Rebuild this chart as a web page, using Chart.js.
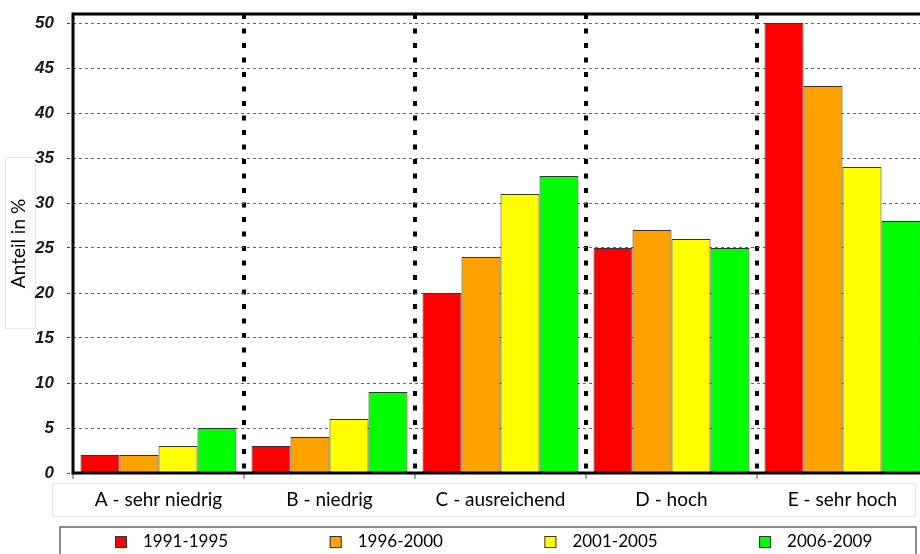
<!DOCTYPE html>
<html>
<head>
<meta charset="utf-8">
<script src="https://cdn.jsdelivr.net/npm/chart.js@4"></script>
<style>
  html, body { margin: 0; padding: 0; background: #fff; overflow: hidden; width: 920px; height: 554px; }
  #wrap { position: absolute; left: 0; top: 0; width: 930px; height: 554px; }
</style>
</head>
<body>
<div id="wrap"><canvas id="c" width="930" height="554"></canvas></div>
<script>
// ---- data ----
const categories = ['A - sehr niedrig', 'B - niedrig', 'C - ausreichend', 'D - hoch', 'E - sehr hoch'];
const seriesLabels = ['1991-1995', '1996-2000', '2001-2005', '2006-2009'];
const values1991 = [2, 3, 20, 25, 50];
const values1996 = [2, 4, 24, 27, 43];
const values2001 = [3, 6, 31, 26, 34];
const values2006 = [5, 9, 33, 25, 28];
const seriesColors = ['#FF0000', '#FFA200', '#FFFF00', '#00FF00'];
const yTickValues = [0, 5, 10, 15, 20, 25, 30, 35, 40, 45, 50];
const yTitle = 'Anteil in %';

const seriesValues = [values1991, values1996, values2001, values2006];

const frame = {
  id: 'frame',
  beforeDraw(chart) {
    const ctx = chart.ctx;
    ctx.save();
    ctx.strokeStyle = '#e6e6e6';
    ctx.lineWidth = 1;
    ctx.strokeRect(52.5, 483.5, 863, 33);
    ctx.strokeRect(5.5, 157.5, 30, 171);
    ctx.restore();
  },
  afterDatasetsDraw(chart) {
    const {ctx, chartArea: a} = chart;
    ctx.save();
    ctx.strokeStyle = '#000';
    ctx.lineWidth = 3;
    ctx.beginPath();
    ctx.moveTo(a.left, a.top);
    ctx.lineTo(a.right + 10, a.top);
    ctx.moveTo(a.left, a.top - 1.5);
    ctx.lineTo(a.left, a.bottom + 1.5);
    ctx.moveTo(a.left - 1.5, a.bottom);
    ctx.lineTo(a.right + 10, a.bottom);
    ctx.stroke();
    ctx.restore();
  },
  afterDraw(chart) {
    const ctx = chart.ctx;
    ctx.save();
    ctx.strokeStyle = '#666';
    ctx.lineWidth = 1.5;
    ctx.strokeRect(60, 527, 856, 40);
    const startX = 115, step = 214.7, cy = 542;
    ctx.font = '17px Lato';
    ctx.textBaseline = 'middle';
    ctx.textAlign = 'left';
    chart.data.datasets.forEach((ds, i) => {
      const x = startX + i * step;
      ctx.fillStyle = ds.backgroundColor;
      ctx.fillRect(x, cy - 6, 12, 12);
      ctx.strokeStyle = '#333';
      ctx.lineWidth = 1;
      ctx.strokeRect(x + 0.5, cy - 5.5, 11, 11);
      ctx.fillStyle = '#000';
      ctx.fillText(ds.label, x + 28, cy);
    });
    ctx.restore();
  }
};

new Chart(document.getElementById('c'), {
  type: 'bar',
  data: {
    labels: categories,
    datasets: seriesLabels.map((lab, i) => ({
      label: lab,
      data: seriesValues[i],
      backgroundColor: seriesColors[i],
      borderColor: '#333',
      borderWidth: 1,
      categoryPercentage: 0.912,
      barPercentage: 1.0
    }))
  },
  options: {
    responsive: false,
    animation: false,
    devicePixelRatio: 1,
    layout: { padding: { top: 14, left: 0, right: 2, bottom: 30 } },
    plugins: {
      legend: { display: false },
      tooltip: { enabled: false }
    },
    scales: {
      x: {
        offset: true,
        grid: {
          display: true,
          offset: true,
          color: (c) => (c.index === 0 ? 'rgba(0,0,0,0)' : '#000'),
          lineWidth: 4,
          drawTicks: true,
          tickLength: 6,
          tickColor: '#555',
          tickWidth: 1,
          tickBorderDash: []
        },
        border: { display: false, dash: [5, 9.5] },
        ticks: {
          color: '#000',
          font: { family: 'Lato', size: 19 },
          padding: 9,
          maxRotation: 0,
          autoSkip: false
        },
        afterFit(scale) { scale.height = 51; scale.paddingLeft = 0; scale.paddingRight = 0; }
      },
      y: {
        min: 0,
        max: 51,
        afterBuildTicks(scale) {
          scale.ticks = yTickValues.map(v => ({ value: v }));
        },
        grid: {
          color: '#666',
          lineWidth: 1,
          drawTicks: true,
          tickLength: 6,
          tickColor: '#444',
          tickBorderDash: [3, 3]
        },
        border: { display: false, dash: [3, 3] },
        ticks: {
          color: '#1a1a1a',
          font: { family: 'Liberation Sans', size: 17, weight: 'bold', style: 'italic' },
          padding: 13
        },
        title: {
          display: true,
          text: yTitle,
          color: '#000',
          font: { family: 'Lato', size: 19 },
          padding: { top: 7, bottom: 0 }
        },
        afterFit(scale) { scale.width = 73; scale.paddingTop = 0; scale.paddingBottom = 0; }
      }
    }
  },
  plugins: [frame]
});
</script>
</body>
</html>
